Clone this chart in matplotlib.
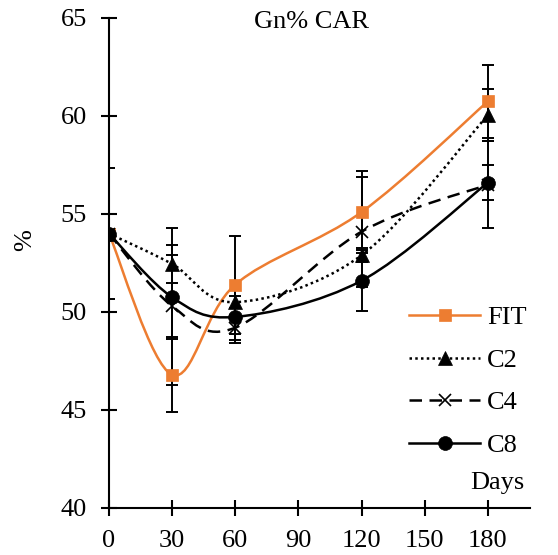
import matplotlib
matplotlib.use('Agg')
import matplotlib.pyplot as plt
from matplotlib.path import Path
from matplotlib.patches import PathPatch
from matplotlib.lines import Line2D

plt.rcParams['font.family'] = ['Liberation Serif', 'DejaVu Serif']

days = [0, 30, 60, 120, 180]

fit = [54.0, 46.8, 51.4, 55.1, 60.75]
c2 = [54.0, 52.45, 50.5, 52.9, 60.05]
c4 = [54.0, 50.3, 49.2, 54.1, 56.5]
c8 = [54.0, 50.75, 49.75, 51.6, 56.6]

fit_err = [3.35, 1.9, 2.5, 2.1, 1.85]
c2_err = [0.0, 0.95, 0.3, 0.35, 1.35]
c4_err = [0.0, 4.0, 0.65, 2.8, 2.2]
c8_err = [0.0, 2.15, 1.35, 1.55, 0.9]

series = [
    ('FIT', fit, fit_err, '#ED7D31', '-', 's', 9),
    ('C2', c2, c2_err, 'black', (0, (1, 1.3)), '^', 10),
    ('C4', c4, c4_err, 'black', (0, (5, 3)), 'x', 9),
    ('C8', c8, c8_err, 'black', '-', 'o', 10),
]


def smooth_path(xs, ys):
    # excel style smoothed line: cubic bezier through every point
    pts = list(zip(xs, ys))
    n = len(pts)
    verts = [pts[0]]
    codes = [Path.MOVETO]
    for i in range(n - 1):
        p0 = pts[max(i - 1, 0)]
        p1 = pts[i]
        p2 = pts[i + 1]
        p3 = pts[min(i + 2, n - 1)]
        c1 = (p1[0] + (p2[0] - p0[0]) / 6, p1[1] + (p2[1] - p0[1]) / 6)
        c2_ = (p2[0] - (p3[0] - p1[0]) / 6, p2[1] - (p3[1] - p1[1]) / 6)
        verts += [c1, c2_, p2]
        codes += [Path.CURVE4] * 3
    return Path(verts, codes)


fig = plt.figure(figsize=(5.58, 5.55), dpi=100)
ax = fig.add_axes([109 / 558, 1 - 508 / 555, (530 - 109) / 558, (508 - 18) / 555])

handles = []
for name, vals, err, color, ls, mk, ms in series:
    ax.errorbar(days, vals, yerr=err, fmt='none', ecolor='black',
                elinewidth=1.4, capsize=4.5, capthick=1.4, zorder=2)
    ax.add_patch(PathPatch(smooth_path(days, vals), facecolor='none',
                           edgecolor=color, linewidth=1.8, linestyle=ls,
                           zorder=3))
    mew = 1.2 if mk == 'x' else 0.5
    ax.plot(days, vals, linestyle='none', marker=mk, markersize=ms,
            color=color, markeredgewidth=mew, zorder=4)
    handles.append(Line2D([], [], color=color, linestyle=ls, linewidth=1.8,
                          marker=mk, markersize=ms, markeredgewidth=mew,
                          label=name))

ax.set_xlim(0, 200)
ax.set_ylim(40, 65)
ax.set_xticks([0, 30, 60, 90, 120, 150, 180])
ax.set_yticks([40, 45, 50, 55, 60, 65])
for s in ['top', 'right']:
    ax.spines[s].set_visible(False)
for s in ['left', 'bottom']:
    ax.spines[s].set_linewidth(1.5)
ax.tick_params(direction='inout', length=12, width=1.5, labelsize=19)
ax.tick_params(axis='x', pad=10)
ax.tick_params(axis='y', pad=10)

fig.text(311 / 558, 1 - 22 / 555, 'Gn% CAR', ha='center', va='center',
         fontsize=19)
fig.text(25 / 558, 1 - 240 / 555, '%', rotation=90, ha='center',
         va='center', fontsize=19)
fig.text(497 / 558, 1 - 483 / 555, 'Days', ha='center', va='center',
         fontsize=19)

fig.legend(handles=handles, loc='upper left',
           bbox_to_anchor=(409 / 558, 1 - 306 / 555), frameon=False,
           fontsize=19, handlelength=2.7, handletextpad=0.25,
           labelspacing=0.72, borderpad=0, borderaxespad=0)

fig.savefig('out.png', dpi=100)
